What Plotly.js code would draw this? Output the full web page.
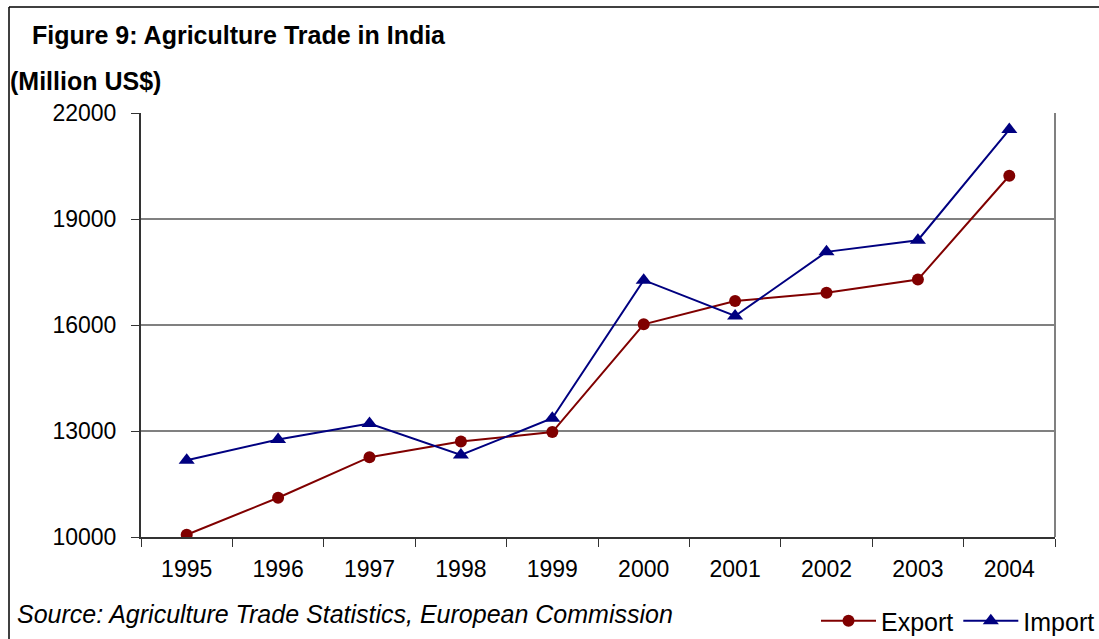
<!DOCTYPE html>
<html>
<head>
<meta charset="utf-8">
<script src="https://cdn.plot.ly/plotly-3.0.1.min.js"></script>
<style>body{margin:0;padding:0;background:#fff;}#chart{width:1099px;height:639px;}</style>
</head>
<body>
<div id="chart"></div>
<script>
const years = ["1995","1996","1997","1998","1999","2000","2001","2002","2003","2004"];
const exportValues = [10065, 11110, 12260, 12700, 12970, 16020, 16680, 16910, 17285, 20225];
const importValues = [12170, 12760, 13210, 12320, 13360, 17270, 16255, 18070, 18400, 21530];
const yTicks = [10000, 13000, 16000, 19000, 22000];

const W = 1099, H = 639;
const L = 141, R = 44, T = 113, B = 102;
const PW = W - L - R, PH = H - T - B;
const px = x => (x - L) / PW;
const py = y => (H - B - y) / PH;

const traces = [
  {
    x: years, y: exportValues, name: "Export", type: "scatter", mode: "lines+markers",
    line: {color: "#800000", width: 2},
    marker: {color: "#800000", symbol: "circle", size: 12}
  },
  {
    x: years, y: importValues, name: "Import", type: "scatter", mode: "lines+markers",
    line: {color: "#000080", width: 2},
    marker: {color: "#000080", symbol: "triangle-up", size: 14}
  }
];

const font = "Arial, 'Liberation Sans', sans-serif";

const layout = {
  width: W, height: H,
  margin: {l: L, r: R, t: T, b: B, pad: 0, autoexpand: false},
  paper_bgcolor: "#fff", plot_bgcolor: "#fff",
  font: {family: font, color: "#000", size: 23},
  title: {
    text: "<b>Figure 9: Agriculture Trade in India</b>",
    font: {family: font, size: 25, color: "#000"},
    x: 32 / W, xref: "container", xanchor: "left",
    y: 1 - 35 / H, yref: "container", yanchor: "middle"
  },
  xaxis: {
    type: "category", range: [-0.5, 9.5], tickson: "boundaries",
    showline: true, linecolor: "#333", linewidth: 2,
    ticks: "outside", ticklen: 8, tickcolor: "#333", tickwidth: 1,
    showgrid: false, zeroline: false, automargin: false,
    tickfont: {family: font, size: 23, color: "#000"}, ticklabelstandoff: 10,
    fixedrange: true
  },
  yaxis: {
    range: [10000, 22000], tickvals: yTicks, ticktext: yTicks.map(String),
    showline: true, linecolor: "#333", linewidth: 2,
    ticks: "outside", ticklen: 8, tickcolor: "#333", tickwidth: 1,
    showgrid: true, gridcolor: "#808080", gridwidth: 1.5, zeroline: false, automargin: false,
    tickfont: {family: font, size: 23, color: "#000"}, ticklabelstandoff: 10,
    fixedrange: true
  },
  showlegend: true,
  legend: {
    orientation: "h", xref: "container", yref: "container",
    x: 816 / W, xanchor: "left", y: 1 - 621 / H, yanchor: "middle",
    font: {family: font, size: 25, color: "#000"},
    bgcolor: "rgba(0,0,0,0)", itemwidth: 55, tracegroupgap: 0
  },
  annotations: [
    {text: "<b>(Million US$)</b>", xref: "paper", yref: "paper", x: px(8), y: py(81),
     xanchor: "left", yanchor: "middle", showarrow: false,
     font: {family: font, size: 25, color: "#000"}},
    {text: "<i>Source: Agriculture Trade Statistics, European Commission</i>", xref: "paper", yref: "paper",
     x: px(15), y: py(614), xanchor: "left", yanchor: "middle", showarrow: false,
     font: {family: font, size: 25, color: "#000"}}
  ],
  shapes: [
    {type: "line", xref: "paper", yref: "paper", x0: 1, x1: 1, y0: 0, y1: 1,
     line: {color: "#808080", width: 2}},
    {type: "line", xref: "paper", yref: "paper", x0: px(9), x1: px(9), y0: py(7), y1: py(645),
     line: {color: "#000", width: 1.5}},
    {type: "line", xref: "paper", yref: "paper", x0: px(9), x1: px(1105), y0: py(7), y1: py(7),
     line: {color: "#000", width: 1.5}}
  ]
};

Plotly.newPlot("chart", traces, layout, {displayModeBar: false, staticPlot: true});
</script>
</body>
</html>
